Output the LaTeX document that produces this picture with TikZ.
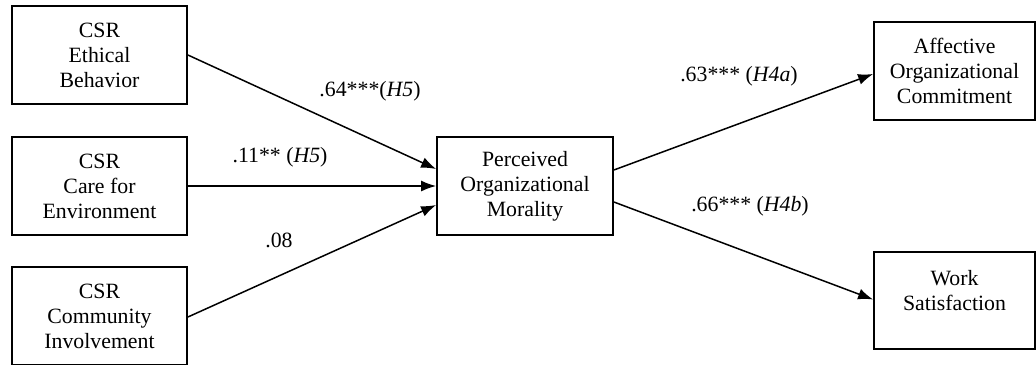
\documentclass[tikz,border=0pt]{standalone}
\usepackage{fontspec}
\setmainfont{Liberation Serif}
\usetikzlibrary{arrows.meta}

\begin{document}
\begin{tikzpicture}[x=0.5pt,y=-0.5pt,
  varbox/.style={draw,line width=0.9pt,align=center,inner sep=0pt,
    minimum width=87.5pt,minimum height=49pt,
    font=\rmfamily\fontsize{10.9}{12.5}\selectfont},
  path/.style={line width=0.75pt,-{Latex[length=7.5pt,width=5.5pt]}},
  coef/.style={font=\rmfamily\fontsize{10.9}{12.5}\selectfont,inner sep=0pt}]

\useasboundingbox (0,0) rectangle (1036,364);

% predictors
\node[varbox] (ethic) at (99.5,55) {CSR\\Ethical\\Behavior};
\node[varbox] (env) at (99.5,186) {CSR\\Care for\\Environment};
\node[varbox] (comm) at (99.5,316) {CSR\\Community\\Involvement};

% mediator
\node[varbox,minimum width=88pt] (moral) at (525,186) {Perceived\\Organizational\\Morality};

% outcomes
\node[varbox,minimum width=80.5pt] (commit) at (954.5,71) {Affective\\Organizational\\Commitment};
\node[varbox,minimum width=80.5pt,minimum height=48.5pt] (satis) at (954.5,300.5) {Work\\Satisfaction\\[-2pt]\mbox{}};

\draw[path] (ethic.east) -- ([yshift=8.5pt]moral.west);
\draw[path] (env.east) -- (moral.west);
\draw[path] ([yshift=-0.5pt]comm.east) -- ([yshift=-9.5pt]moral.west);
\draw[path] ([yshift=8pt]moral.east) -- ([yshift=-1.5pt]commit.west);
\draw[path] ([yshift=-8pt]moral.east) -- ([yshift=0.5pt]satis.west);

\node[coef] at (370,91) {.64***(\textit{H5})};
\node[coef] at (280,157) {.11** (\textit{H5})};
\node[coef] at (279,240) {.08};
\node[coef] at (739,76) {.63*** (\textit{H4a})};
\node[coef] at (750,206) {.66*** (\textit{H4b})};

\end{tikzpicture}
\end{document}
